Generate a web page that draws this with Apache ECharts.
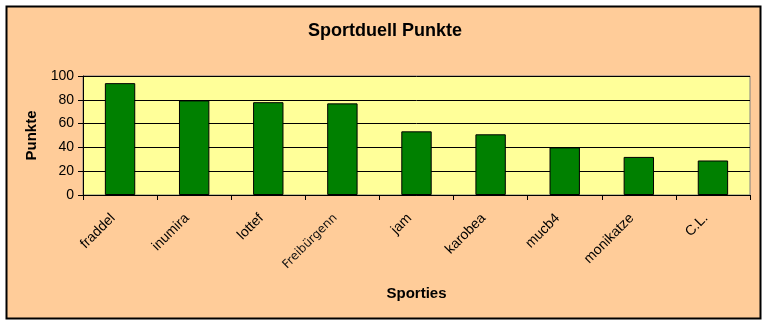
<!DOCTYPE html>
<html><head><meta charset="utf-8">
<script src="https://cdn.jsdelivr.net/npm/echarts@6/dist/echarts.min.js"></script>
<style>html,body{margin:0;padding:0;background:#fff}#c{width:768px;height:326px}</style>
</head><body><div id="c"></div>
<script>
const categories = ["fraddel","inumira","lottef","Freibürgenn","jam","karobea","mucb4","monikatze","C.L."];
const points = [94, 79.5, 78, 77, 53.5, 51, 40, 32, 29];
const yTicks = [0, 20, 40, 60, 80, 100];

const chart = echarts.init(document.getElementById('c'), null, {renderer:'canvas'});
chart.setOption({
  animation:false,
  backgroundColor:'#ffffff',
  graphic:[
    {type:'rect', shape:{x:6.5,y:6.5,width:754,height:312}, style:{fill:'#FFCC99', stroke:'#000', lineWidth:2}, z:-10, silent:true}
  ],
  title:{
    text:'Sportduell Punkte', left:380, textAlign:'center', top:17,
    textStyle:{fontFamily:'Liberation Sans, Arial', fontSize:18, fontWeight:'bold', color:'#000'}
  },
  grid:{left:83, right:18, top:76, bottom:131, show:true, backgroundColor:'#FFFF99', borderColor:'#808080', borderWidth:1},
  xAxis:{
    type:'category', data:categories,
    name:'Sporties', nameLocation:'middle', nameGap:91,
    nameTextStyle:{fontFamily:'Liberation Sans, Arial', fontSize:15, fontWeight:'bold', color:'#000'},
    axisLine:{lineStyle:{color:'#000', width:1}},
    axisTick:{show:true, alignWithLabel:false, length:5, lineStyle:{color:'#000'}},
    axisLabel:{rotate:45, margin:14, padding:[0,10,0,0], fontFamily:'Liberation Sans, Arial', fontSize:14, color:'#000',
      formatter:function(v){ return v==='Freibürgenn' ? '{f|'+v+'}' : v; },
      rich:{f:{fontFamily:'DejaVu Sans', fontSize:12, color:'#111'}}}
  },
  yAxis:{
    type:'value', min:yTicks[0], max:yTicks[yTicks.length-1], interval:20,
    name:'Punkte', nameLocation:'middle', nameGap:42, nameRotate:90,
    nameTextStyle:{fontFamily:'Liberation Sans, Arial', fontSize:15, fontWeight:'bold', color:'#000'},
    axisLine:{show:true, lineStyle:{color:'#000'}},
    axisTick:{show:true, length:5, lineStyle:{color:'#000'}},
    axisLabel:{fontFamily:'Liberation Sans, Arial', fontSize:14, color:'#000', margin:9},
    splitLine:{show:true, lineStyle:{color:'#000', width:1}}
  },
  series:[{
    type:'bar', data:points, barWidth:'41%',
    itemStyle:{color:'#008000', borderColor:'#000', borderWidth:1}
  }]
});
</script></body></html>
